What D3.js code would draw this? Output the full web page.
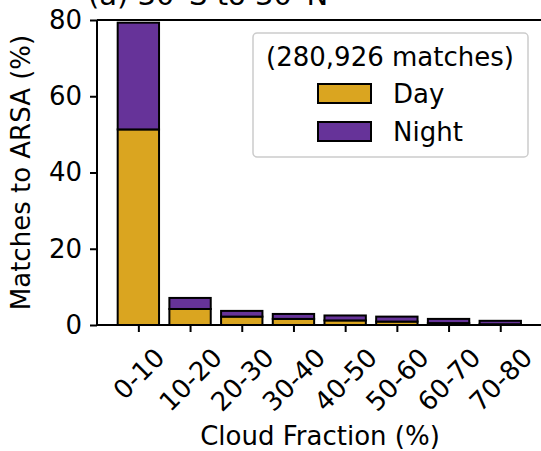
<!DOCTYPE html>
<html><head><meta charset="utf-8">
<script src="https://cdn.jsdelivr.net/npm/d3@7"></script>
<style>body{margin:0;background:#fff}svg{display:block}text{font-family:"DejaVu Sans",sans-serif;fill:#000}</style>
</head><body>
<svg id="c" width="541" height="451"></svg>
<script>
const categories = ["0-10","10-20","20-30","30-40","40-50","50-60","60-70","70-80"];
const dayValues   = [51.3, 4.2, 2.2, 1.6, 1.2, 0.9, 0.5, 0.2];
const nightValues = [28.0, 2.9, 1.5, 1.3, 1.3, 1.3, 1.1, 0.9];
const yTicks = [0, 20, 40, 60, 80];
const seriesNames = ["Day", "Night"];
const seriesColors = ["#DAA520", "#663399"];
const legendTitle = "(280,926 matches)";
const title = "(a) 30°S to 30°N";

const svg = d3.select("#c");
const L = 97, T = 20, B = 325, fs = 26;
const step = 51.7;
const x = d3.scaleLinear().domain([-0.8, 7.8]).range([L, L + 8.6 * step]);
const y = d3.scaleLinear().domain([0, 80]).range([B, T]);
const bw = 0.8 * step;

const data = categories.map((c, i) => ({c, i, day: dayValues[i], night: nightValues[i]}));
const stack = d3.stack().keys(["day", "night"])(data);

const g = svg.append("g");
stack.forEach((s, k) => {
  g.selectAll(null).data(s).enter().append("rect")
    .attr("x", d => x(d.data.i) - bw / 2)
    .attr("width", bw)
    .attr("y", d => y(d[1]))
    .attr("height", d => y(d[0]) - y(d[1]))
    .attr("fill", seriesColors[k])
    .attr("stroke", "#000").attr("stroke-width", 2);
});

// spines
svg.append("line").attr("x1", L).attr("x2", 541).attr("y1", T).attr("y2", T).attr("stroke", "#000").attr("stroke-width", 2);
svg.append("line").attr("x1", L).attr("x2", L).attr("y1", T).attr("y2", B).attr("stroke", "#000").attr("stroke-width", 2);

// y axis
const ya = svg.append("g").attr("transform", `translate(${L},0)`)
  .call(d3.axisLeft(y).tickValues(yTicks).tickSize(7).tickPadding(8));
ya.select(".domain").remove();
ya.selectAll(".tick line").attr("stroke", "#000").attr("stroke-width", 2);
ya.selectAll(".tick text").attr("font-size", fs).attr("font-family", "DejaVu Sans").attr("fill", "#000");

// x axis
const xa = svg.append("g").attr("transform", `translate(0,${B})`)
  .call(d3.axisBottom(x).tickValues(d3.range(categories.length)).tickFormat(i => categories[i]).tickSize(7).tickSizeOuter(0));
xa.select(".domain").attr("d", `M${L},0H541`).attr("stroke", "#000").attr("stroke-width", 2);
xa.selectAll(".tick line").attr("stroke", "#000").attr("stroke-width", 2);
xa.selectAll(".tick text").each(function(i) {
  const t = d3.select(this).attr("font-size", fs).attr("font-family", "DejaVu Sans").attr("fill", "#000")
    .attr("dy", null).attr("y", 0).attr("text-anchor", "middle").attr("dominant-baseline", "central");
  const w = this.getComputedTextLength();
  const h = fs * 0.75;
  const cy = 21 + (w + h) * Math.SQRT1_2 / 2;
  t.attr("transform", `translate(0,${cy}) rotate(-45)`);
});

// axis labels
svg.append("text").attr("x", 320).attr("y", 445).attr("text-anchor", "middle").attr("font-size", fs).text("Cloud Fraction (%)");
svg.append("text").attr("transform", `translate(30,${(T + B) / 2}) rotate(-90)`).attr("text-anchor", "middle").attr("font-size", fs).text("Matches to ARSA (%)");

// title (cut off at top, as in the reference)
svg.append("text").attr("x", 88).attr("y", 5).attr("font-size", 29).text(title);

// legend
const lg = svg.append("g");
lg.append("rect").attr("x", 253).attr("y", 33).attr("width", 275).attr("height", 124).attr("rx", 4)
  .attr("fill", "#fff").attr("fill-opacity", 0.8).attr("stroke", "#ccc").attr("stroke-width", 1.5);
lg.append("text").attr("x", 390).attr("y", 66).attr("text-anchor", "middle").attr("font-size", fs).text(legendTitle);
seriesNames.forEach((n, k) => {
  const yy = 84 + k * 38;
  lg.append("rect").attr("x", 318).attr("y", yy).attr("width", 53).attr("height", 19)
    .attr("fill", seriesColors[k]).attr("stroke", "#000").attr("stroke-width", 2);
  lg.append("text").attr("x", 393).attr("y", yy + 10).attr("dominant-baseline", "central").attr("font-size", fs).text(n);
});
</script>
</body></html>
